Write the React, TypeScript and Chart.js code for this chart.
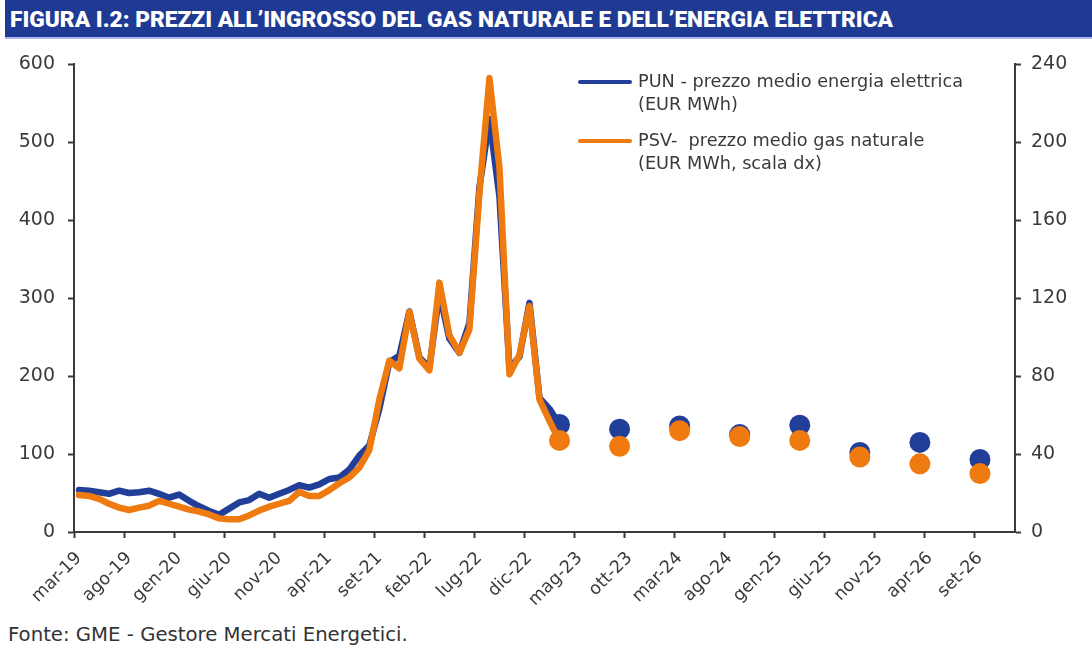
import React, { useEffect, useRef } from 'react';
import { Chart, registerables } from 'chart.js';

Chart.register(...registerables);

// ---- categories (monthly, mar-19 .. dic-26) ----
const MONTH_NAMES = ['gen', 'feb', 'mar', 'apr', 'mag', 'giu', 'lug', 'ago', 'set', 'ott', 'nov', 'dic'];
const categories: string[] = [];
for (let k = 0; k < 94; k++) {
  const m = (2 + k) % 12;
  const y = 19 + Math.floor((2 + k) / 12);
  categories.push(`${MONTH_NAMES[m]}-${y}`);
}

// ---- PUN monthly (EUR/MWh), mar-19 .. mar-23 ----
const punMonthly = [
  54, 53, 51, 49, 53, 50, 51, 53, 49, 44,
  48, 40, 33, 27, 22, 30, 38, 41, 49, 44,
  49, 54, 60, 57, 61, 68, 70, 80, 98, 111,
  158, 218, 226, 283, 224, 211, 307, 248, 230, 268,
  442, 530, 430, 210, 225, 294, 172, 158, 138,
];

// ---- PSV monthly (EUR/MWh, right scale), mar-19 .. mar-23 ----
const psvMonthly = [
  19, 18.5, 17, 14.5, 12.5, 11.3, 12.5, 13.5, 16, 14.5,
  13, 11.5, 10.5, 9, 7, 6.5, 6.5, 8.5, 11, 13,
  14.5, 16, 20.5, 18.5, 18.5, 21.5, 25, 28, 33, 42,
  68, 88, 84, 113, 89, 83, 128, 101, 92, 104,
  174, 233, 187, 81, 91, 116, 68, 57, 47,
];

// ---- forward points (dots) ----
const forwardLabels = ['mar-23', 'set-23', 'mar-24', 'set-24', 'mar-25', 'set-25', 'mar-26', 'set-26'];
const punForward = [138, 132, 136, 125, 137, 102, 115, 93];
const psvForward = [47, 44, 52, 49, 47, 38.5, 35, 30];

const BLUE = '#213f99';
const ORANGE = '#ef7a0f';
const AXIS = '#3a3a3a';
const FONT = 'DejaVu Sans';

export default function App() {
  const canvasRef = useRef<HTMLCanvasElement | null>(null);
  const titleRef = useRef<HTMLSpanElement | null>(null);

  useEffect(() => {
    document.body.style.margin = '0';
    const t = titleRef.current;
    if (t) {
      const w = t.getBoundingClientRect().width;
      if (w > 0) t.style.transform = `scaleX(${883 / w})`;
    }
    if (!canvasRef.current) return;
    const chart = new Chart(canvasRef.current, {
      type: 'line',
      data: {
        labels: categories,
        datasets: [
          {
            label: 'PSV forward',
            data: forwardLabels.map((l, i) => ({ x: l, y: psvForward[i] })),
            yAxisID: 'y1',
            showLine: false,
            pointRadius: 10.5,
            pointBackgroundColor: ORANGE,
            pointBorderWidth: 0,
            borderColor: ORANGE,
            order: 0,
          },
          {
            label: 'PSV',
            data: psvMonthly,
            yAxisID: 'y1',
            borderColor: ORANGE,
            borderWidth: 6.5,
            pointRadius: 0,
            tension: 0,
            borderJoinStyle: 'round',
            borderCapStyle: 'round',
            order: 1,
          },
          {
            label: 'PUN forward',
            data: forwardLabels.map((l, i) => ({ x: l, y: punForward[i] })),
            yAxisID: 'y',
            showLine: false,
            pointRadius: 10.5,
            pointBackgroundColor: BLUE,
            pointBorderWidth: 0,
            borderColor: BLUE,
            order: 2,
          },
          {
            label: 'PUN',
            data: punMonthly,
            yAxisID: 'y',
            borderColor: BLUE,
            borderWidth: 6.5,
            pointRadius: 0,
            tension: 0,
            borderJoinStyle: 'round',
            borderCapStyle: 'round',
            order: 3,
          },
        ],
      },
      options: {
        animation: false,
        responsive: false,
        maintainAspectRatio: false,
        layout: { padding: { top: 11, left: 0, right: 0, bottom: 0 } },
        plugins: { legend: { display: false }, tooltip: { enabled: false } },
        scales: {
          x: {
            type: 'category',
            offset: true,
            grid: {
              offset: true,
              drawOnChartArea: false,
              drawTicks: true,
              tickLength: 6,
              tickWidth: 2,
              tickColor: (ctx: any) => (ctx.index % 5 === 0 && ctx.index < 94 ? AXIS : 'rgba(0,0,0,0)'),
            },
            border: { display: true, color: AXIS, width: 2 },
            ticks: {
              autoSkip: false,
              minRotation: 45,
              maxRotation: 45,
              padding: 10,
              color: AXIS,
              font: { family: FONT, size: 17.5 },
              callback: (_v: any, i: number) => (i % 5 === 0 ? categories[i] : ''),
            },
            afterFit: (s: any) => {
              s.height = 78;
            },
          },
          y: {
            position: 'left',
            min: 0,
            max: 600,
            grid: { drawOnChartArea: false, tickLength: 6, tickWidth: 2, tickColor: AXIS },
            border: { display: true, color: AXIS, width: 2 },
            ticks: { stepSize: 100, padding: 13, color: AXIS, font: { family: FONT, size: 19 } },
            afterFit: (s: any) => {
              s.width = 74;
            },
          },
          y1: {
            position: 'right',
            min: 0,
            max: 240,
            grid: { drawOnChartArea: false, tickLength: 6, tickWidth: 2, tickColor: AXIS },
            border: { display: true, color: AXIS, width: 2 },
            ticks: { stepSize: 40, padding: 10, color: AXIS, font: { family: FONT, size: 19 } },
            afterFit: (s: any) => {
              s.width = 77;
            },
          },
        },
      },
    } as any);
    return () => chart.destroy();
  }, []);

  const legendText: React.CSSProperties = {
    position: 'absolute',
    left: 638,
    fontFamily: FONT,
    fontSize: 17.7,
    lineHeight: '23px',
    color: '#3a3a3a',
    whiteSpace: 'pre',
  };

  return (
    <div style={{ position: 'relative', width: 1092, height: 652, background: '#fff', overflow: 'hidden' }}>
      <div
        style={{
          position: 'absolute',
          left: 5,
          top: 0,
          width: 1087,
          height: 37,
          background: '#1f3a93',
          borderBottom: '2px solid #aab6ee',
          overflow: 'hidden',
        }}
      >
        <span
          ref={titleRef}
          style={{
            position: 'absolute',
            left: 5,
            top: 5,
            fontFamily: 'Roboto',
            fontWeight: 900,
            fontSize: 22,
            lineHeight: '30px',
            color: '#ffffff',
            whiteSpace: 'nowrap',
            transformOrigin: 'left center',
            display: 'inline-block',
          }}
        >
          FIGURA I.2: PREZZI ALL’INGROSSO DEL GAS NATURALE E DELL’ENERGIA ELETTRICA
        </span>
      </div>
      <canvas ref={canvasRef} width={1092} height={570} style={{ position: 'absolute', left: 0, top: 40 }} />
      {/* legend */}
      <div style={{ position: 'absolute', left: 578, top: 80, width: 54, height: 4, borderRadius: 2, background: BLUE }} />
      <div style={{ ...legendText, top: 70 }}>{'PUN - prezzo medio energia elettrica\n(EUR MWh)'}</div>
      <div style={{ position: 'absolute', left: 578, top: 139, width: 54, height: 4, borderRadius: 2, background: ORANGE }} />
      <div style={{ ...legendText, top: 129 }}>{'PSV-  prezzo medio gas naturale\n(EUR MWh, scala dx)'}</div>
      <div
        style={{
          position: 'absolute',
          left: 8,
          top: 623,
          fontFamily: FONT,
          fontSize: 19.7,
          color: '#333333',
          whiteSpace: 'nowrap',
        }}
      >
        Fonte: GME - Gestore Mercati Energetici.
      </div>
    </div>
  );
}
